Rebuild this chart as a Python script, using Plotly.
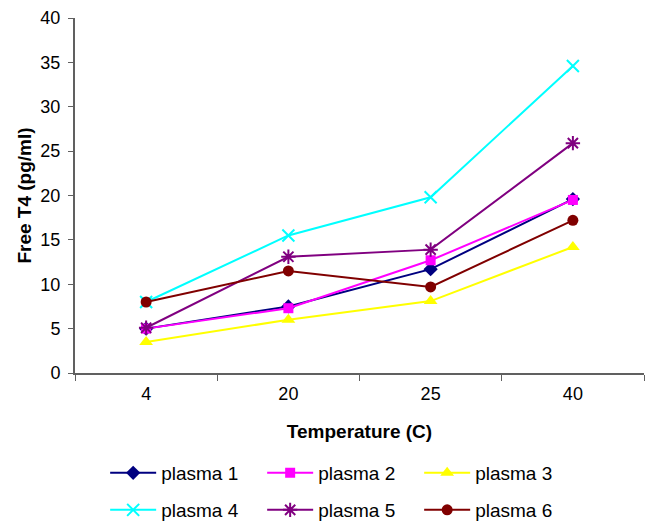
import plotly.graph_objects as go

temperatures = ["4", "20", "25", "40"]
plasma_1 = [5.0, 7.5, 11.7, 19.6]
plasma_2 = [5.0, 7.3, 12.7, 19.5]
plasma_3 = [3.5, 6.0, 8.1, 14.2]
plasma_4 = [8.0, 15.5, 19.8, 34.6]
plasma_5 = [5.1, 13.1, 13.9, 25.9]
plasma_6 = [8.0, 11.5, 9.7, 17.2]
y_ticks = [0, 5, 10, 15, 20, 25, 30, 35, 40]

series = [
    ("plasma 1", plasma_1, "#000080", "diamond", 11, None, "legend"),
    ("plasma 2", plasma_2, "#FF00FF", "square", 10, None, "legend"),
    ("plasma 3", plasma_3, "#FFFF00", "triangle-up", 12, None, "legend"),
    ("plasma 4", plasma_4, "#00FFFF", "x-thin", 12, 2, "legend2"),
    ("plasma 5", plasma_5, "#800080", "asterisk", 12, 2, "legend2"),
    ("plasma 6", plasma_6, "#800000", "circle", 11, None, "legend2"),
]

fig = go.Figure()
for name, vals, color, sym, size, lw, lg in series:
    marker = dict(symbol=sym, size=size, color=color)
    if lw:
        marker["line"] = dict(color=color, width=lw)
    fig.add_trace(go.Scatter(
        x=temperatures, y=vals, name=name, mode="lines+markers",
        line=dict(color=color, width=2), marker=marker, legend=lg,
    ))

font = "Liberation Sans, Arial, sans-serif"
legend_common = dict(
    orientation="h", x=0.053, xanchor="left", yanchor="middle",
    yref="container",
    entrywidth=96, entrywidthmode="pixels",
    font=dict(size=19, family=font, color="black"), itemwidth=46,
    bgcolor="rgba(0,0,0,0)",
)
fig.update_layout(
    width=654, height=531,
    margin=dict(l=75, r=10, t=18, b=158),
    plot_bgcolor="white", paper_bgcolor="white",
    font=dict(family=font, size=18, color="black"),
    showlegend=True,
    legend=dict(legend_common, y=1 - 473 / 531),
    legend2=dict(legend_common, y=1 - 510 / 531),
    xaxis=dict(
        type="category", range=[-0.5, 3.5], showgrid=False, showline=True,
        linecolor="#606060", linewidth=2, ticks="outside",
        tickson="boundaries", ticklen=6, tickcolor="#606060",
        automargin=False, ticklabelstandoff=3,
        title=dict(text="<b>Temperature (C)</b>", font=dict(size=19), standoff=22),
        tickfont=dict(size=18),
    ),
    yaxis=dict(
        range=[0, 40], tickvals=y_ticks, showgrid=False, showline=True,
        linecolor="#606060", linewidth=2, ticks="outside", ticklen=5,
        tickcolor="#606060", zeroline=False, automargin=False,
        ticklabelstandoff=4,
        title=dict(text="<b>Free T4 (pg/ml)</b>", font=dict(size=19), standoff=4),
        tickfont=dict(size=18),
    ),
)

fig.write_html("out.html", config={"displayModeBar": False},
               post_script="document.body.style.margin='0px';")
